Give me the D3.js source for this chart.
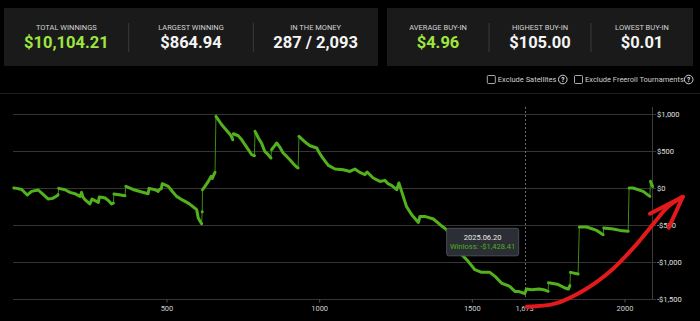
<!DOCTYPE html>
<html>
<head>
<meta charset="utf-8">
<script src="https://cdn.jsdelivr.net/npm/d3@7"></script>
<style>
  body { margin: 0; background: #000; }
  svg { display: block; font-family: Roboto, "Noto Sans", sans-serif; }
</style>
</head>
<body>
<script>
// Define SVG area dimensions
var svgWidth = 700;
var svgHeight = 321;

// stat cards
const statLabels = ["TOTAL WINNINGS", "LARGEST WINNING", "IN THE MONEY", "AVERAGE BUY-IN", "HIGHEST BUY-IN", "LOWEST BUY-IN"];
const statValues = ["$10,104.21", "$864.94", "287 / 2,093", "$4.96", "$105.00", "$0.01"];
const statGreen = [true, false, false, true, false, false];

// cumulative winloss by tournament number
const tourneyNo = [0, 10, 26, 44, 58, 80, 97, 113, 127, 142, 145, 147, 168, 184, 200, 217, 222, 226, 233, 249,
  256, 266, 277, 280, 292, 299, 310, 320, 326, 328, 345, 364, 367, 390, 419, 440, 443, 462, 473, 476,
  483, 486, 506, 520, 533, 547, 561, 575, 588, 599, 604, 615, 617, 618, 626, 637, 646, 650, 655, 659,
  662, 681, 697, 707, 712, 717, 719, 735, 745, 757, 768, 779, 788, 790, 801, 812, 822, 833, 842, 844,
  852, 861, 870, 882, 893, 904, 915, 926, 931, 934, 948, 960, 970, 992, 1000, 1008, 1020, 1030, 1052, 1079,
  1101, 1117, 1133, 1150, 1157, 1177, 1199, 1215, 1225, 1237, 1254, 1261, 1270, 1286, 1303, 1325, 1330, 1346, 1374, 1396,
  1417, 1440, 1467, 1488, 1510, 1532, 1559, 1576, 1597, 1624, 1641, 1655, 1668, 1673, 1679, 1696, 1720, 1735, 1750, 1751,
  1780, 1805, 1816, 1821, 1823, 1848, 1852, 1876, 1909, 1930, 1932, 1963, 1985, 2012, 2015, 2028, 2061, 2083, 2085, 2092];
const winloss = [0, -5, -20, -95, -46, -27, -90, -149, -140, -104, -90, -5, -23, -59, -77, -113, -59, -120, -158, -216,
  -149, -170, -194, -122, -128, -135, -170, -216, -205, -81, -90, -104, 22, -20, -54, -77, -5, -23, -46, -23,
  -10, 58, 22, -50, -113, -150, -181, -215, -257, -293, -405, -482, -320, -23, 22, 89, 157, 130, 180, 211,
  968, 855, 778, 730, 700, 652, 733, 706, 660, 585, 520, 450, 436, 765, 676, 600, 494, 450, 405, 517,
  560, 608, 560, 473, 430, 382, 330, 284, 270, 697, 643, 600, 571, 540, 480, 427, 360, 305, 257, 247,
  224, 257, 211, 180, 216, 135, 89, 103, 60, 35, -23, 68, -46, -249, -361, -465, -384, -384, -419, -496,
  -563, -730, -901, -991, -1104, -1140, -1140, -1194, -1284, -1329, -1397, -1400, -1419, -1428.41, -1365, -1374, -1365, -1374, -1396, -1280,
  -1300, -1351, -1365, -1320, -1140, -1162, -527, -527, -573, -631, -540, -554, -573, -586, 0, 0, -46, -113, 89, 20];

const yTicks = [1000, 500, 0, -500, -1000, -1500];
const xTicks = [500, 1000, 1500, 2000];

// hovered point
const hoverNo = 1673;
const hoverDate = "2025.06.20";
const hoverValue = -1428.41;

// hand drawn red arrow, in chart units
const arrowNo = [1680, 1772, 1870, 1959, 2041, 2100, 2142, 2191];
const arrowVal = [-1604, -1563, -1374, -1104, -753, -456, -253, -118];
const wingNo = [2083, 2191, 2145];
const wingVal = [-347, -118, -536];

var svg = d3.select("body").append("svg")
  .attr("width", svgWidth)
  .attr("height", svgHeight);

svg.append("rect").attr("width", svgWidth).attr("height", svgHeight).attr("fill", "#000");

// ---- stat cards
const cards = [{x: 4, w: 374, items: [0, 1, 2]}, {x: 387, w: 306, items: [3, 4, 5]}];
cards.forEach(c => {
  svg.append("rect")
    .attr("x", c.x).attr("y", 8).attr("width", c.w).attr("height", 58)
    .attr("fill", "#1a1a1a");
  const cw = c.w / 3;
  c.items.forEach((i, k) => {
    const cx = c.x + cw * k + cw / 2;
    if (k > 0) {
      svg.append("line")
        .attr("x1", c.x + cw * k).attr("x2", c.x + cw * k)
        .attr("y1", 23).attr("y2", 52)
        .attr("stroke", "#3a3a3a");
    }
    svg.append("text")
      .attr("x", cx).attr("y", 29.5)
      .attr("text-anchor", "middle")
      .attr("font-size", 7.5)
      .attr("fill", "#d4d4d4")
      .text(statLabels[i]);
    svg.append("text")
      .attr("x", cx).attr("y", 47.5)
      .attr("text-anchor", "middle")
      .attr("font-size", 16.5)
      .attr("font-weight", "bold")
      .attr("fill", statGreen[i] ? "#9ee53f" : "#f4f4f4")
      .text(statValues[i]);
  });
});

// ---- filters row
svg.append("line").attr("x1", 0).attr("x2", svgWidth).attr("y1", 93.5).attr("y2", 93.5)
  .attr("stroke", "#1f1f1f");

function checkbox(x, label, iconX) {
  svg.append("rect")
    .attr("x", x).attr("y", 75.5).attr("width", 8).attr("height", 8).attr("rx", 1)
    .attr("fill", "none").attr("stroke", "#bdbdbd").attr("stroke-width", 0.9);
  svg.append("text")
    .attr("x", x + 10.5).attr("y", 82.3)
    .attr("font-size", 7.5).attr("fill", "#cfcfcf")
    .text(label);
  svg.append("circle").attr("cx", iconX).attr("cy", 79.5).attr("r", 4.3)
    .attr("fill", "none").attr("stroke", "#e8e8e8").attr("stroke-width", 0.9);
  svg.append("text")
    .attr("x", iconX).attr("y", 82)
    .attr("text-anchor", "middle")
    .attr("font-size", 6.5).attr("font-weight", "bold").attr("fill", "#e8e8e8")
    .text("?");
}
checkbox(487.3, "Exclude Satellites", 562.8);
checkbox(574.5, "Exclude Freeroll Tournaments", 688.7);

// ---- chart
const x = d3.scaleLinear().domain([0, 2090]).range([13.8, 652]);
const y = d3.scaleLinear().domain([-1500, 1000]).range([299, 114]);

const plotLeft = 13;
const plotRight = 652;

// gridlines
svg.append("g").selectAll("line").data(yTicks).join("line")
  .attr("x1", plotLeft).attr("x2", plotRight + 4)
  .attr("y1", d => Math.round(y(d)) + 0.5).attr("y2", d => Math.round(y(d)) + 0.5)
  .attr("stroke", "#353535");

// right axis line
svg.append("line")
  .attr("x1", plotRight + 0.5).attr("x2", plotRight + 0.5)
  .attr("y1", 107).attr("y2", 300)
  .attr("stroke", "#3c3c3c");

// y axis on the right
const rightAxis = d3.axisRight(y).tickValues(yTicks).tickSize(0).tickPadding(5)
  .tickFormat(d => (d < 0 ? "-$" : "$") + d3.format(",")(Math.abs(d)));
const yAxis = svg.append("g")
  .attr("transform", `translate(${plotRight}, 0)`)
  .call(rightAxis);
yAxis.select(".domain").remove();
yAxis.selectAll("text").attr("font-size", 7.5).attr("fill", "#e0e0e0").attr("font-family", "Roboto");

// x axis
const bottomAxis = d3.axisBottom(x).tickValues(xTicks).tickSize(3).tickPadding(3)
  .tickFormat(d3.format("d"));
const xAxis = svg.append("g")
  .attr("transform", "translate(0, 299.5)")
  .call(bottomAxis);
xAxis.select(".domain").remove();
xAxis.selectAll("line").attr("stroke", "#555");
xAxis.selectAll("text").attr("font-size", 7.5).attr("fill", "#d0d0d0").attr("font-family", "Roboto");

// crosshair
svg.append("line")
  .attr("x1", Math.round(x(hoverNo)) + 0.5).attr("x2", Math.round(x(hoverNo)) + 0.5)
  .attr("y1", 107).attr("y2", 299)
  .attr("stroke", "#6a6a6a").attr("stroke-dasharray", "2,2");
svg.append("text")
  .attr("x", x(hoverNo)).attr("y", 310.7)
  .attr("text-anchor", "middle")
  .attr("font-size", 7.5).attr("fill", "#d0d0d0")
  .text(d3.format(",")(hoverNo));

// series
const series = tourneyNo.map((n, i) => ({n: n, v: winloss[i]}));
const line = d3.line().x(d => x(d.n)).y(d => y(d.v));

// thin line through every point (shows the jumps)
svg.append("path")
  .datum(series)
  .attr("d", line)
  .attr("fill", "none")
  .attr("stroke", "#3e8a17")
  .attr("stroke-width", 1);

// thick runs between the jumps
const runs = [];
let run = [series[0]];
for (let i = 1; i < series.length; i++) {
  const a = series[i - 1], b = series[i];
  const slope = Math.abs(b.v - a.v) / (b.n - a.n);
  if (slope > 30) {
    runs.push(run);
    run = [b];
  } else {
    run.push(b);
  }
}
runs.push(run);

svg.append("g").selectAll("path").data(runs).join("path")
  .attr("d", d => d.length > 1 ? line(d) : `M${x(d[0].n)},${y(d[0].v)}h0`)
  .attr("fill", "none")
  .attr("stroke", "#52b11d")
  .attr("stroke-width", 3)
  .attr("stroke-linecap", "round")
  .attr("stroke-linejoin", "round");

// tooltip
const tipW = 72, tipH = 27.5;
const tipX = x(hoverNo) - 6 - tipW;
const tipY = 228.3;
const tip = svg.append("g");
tip.append("rect")
  .attr("x", tipX).attr("y", tipY).attr("width", tipW).attr("height", tipH).attr("rx", 2)
  .attr("fill", "#2b2e34").attr("stroke", "#4a4d55").attr("stroke-width", 1);
tip.append("text")
  .attr("x", tipX + tipW / 2).attr("y", tipY + 11.2)
  .attr("text-anchor", "middle")
  .attr("font-size", 7.5).attr("fill", "#ececec")
  .text(hoverDate);
tip.append("text")
  .attr("x", tipX + tipW / 2).attr("y", tipY + 20.5)
  .attr("text-anchor", "middle")
  .attr("font-size", 7.5).attr("fill", "#4fae1f")
  .text("Winloss: -$" + d3.format(",.2f")(Math.abs(hoverValue)));

// red annotation arrow
const arrowLine = d3.line().curve(d3.curveCatmullRom).x(d => x(d[0])).y(d => y(d[1]));
svg.append("path")
  .datum(arrowNo.map((n, i) => [n, arrowVal[i]]))
  .attr("d", arrowLine)
  .attr("fill", "none")
  .attr("stroke", "#e3191b")
  .attr("stroke-width", 4)
  .attr("stroke-linecap", "round");
svg.append("path")
  .datum(wingNo.map((n, i) => [n, wingVal[i]]))
  .attr("d", d3.line().x(d => x(d[0])).y(d => y(d[1])))
  .attr("fill", "none")
  .attr("stroke", "#e3191b")
  .attr("stroke-width", 4)
  .attr("stroke-linecap", "round")
  .attr("stroke-linejoin", "round");
</script>
</body>
</html>
